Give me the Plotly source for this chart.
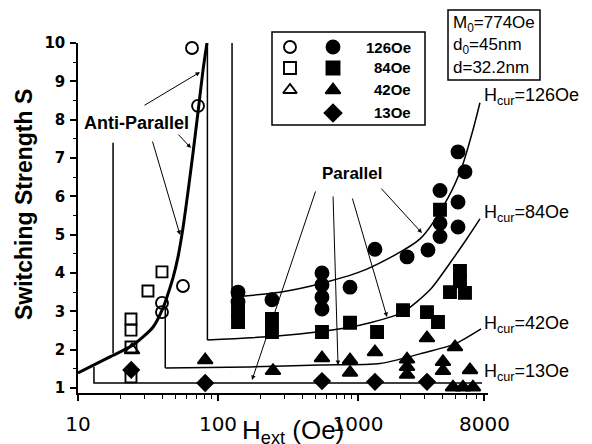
import math
import plotly.graph_objects as go

# ---------------- data ----------------
# anti-parallel fitted curve (thick)
ap_h = [10.0, 16.9, 24.7, 34.4, 40.5, 43.9, 47.7, 51.8, 56.2, 61.0, 66.3, 72.0, 78.2, 83.4]
ap_s = [1.39, 1.81, 2.12, 2.59, 3.09, 3.45, 3.87, 4.42, 5.17, 6.11, 7.13, 8.20, 9.30, 10.0]
# near-vertical anti-parallel branch
ap2_h = [17.8, 17.8]
ap2_s = [1.9, 7.4]

# parallel fitted curves (vertical step at H = Hcur, then rising branch)
p13_h = [13, 13, 7690]
p13_s = [1.55, 1.13, 1.13]

p42v_h = [42, 42]
p42v_s = [3.09, 1.52]
p42_h = [42, 169, 535, 1436, 2773, 4932, 7568]
p42_s = [1.52, 1.55, 1.60, 1.64, 1.89, 2.15, 2.54]

p84v_h = [84, 84]
p84v_s = [10.0, 2.25]
p84_h = [84, 277, 834, 1218, 2096, 3268, 4540, 6010, 7430]
p84_s = [2.25, 2.36, 2.57, 2.70, 2.98, 3.56, 4.26, 4.90, 5.41]

p126v_h = [126, 126]
p126v_s = [10.0, 3.37]
p126_h = [126, 277, 563, 1122, 2773, 4395, 5530, 6624, 7430]
p126_s = [3.37, 3.50, 3.74, 4.08, 4.89, 5.96, 6.77, 7.73, 8.44]

# measured points: open = anti-parallel, filled = parallel
o126_h = [65.2, 72.0, 56.2, 39.8, 39.8]
o126_s = [9.87, 8.36, 3.66, 3.22, 2.98]
o84_h = [39.8, 31.6, 23.9, 23.9, 23.9, 23.9]
o84_s = [4.03, 3.53, 2.80, 2.51, 2.07, 1.29]
o42_h = [24.3]
o42_s = [1.99]

f126_h = [139, 139, 243, 553, 553, 553, 553, 877, 1322, 2240, 3160, 3853, 3853, 3853,
          5180, 5180, 5180, 5810]
f126_s = [3.50, 3.25, 3.30, 4.00, 3.69, 3.37, 3.06, 3.63, 4.62, 4.42, 4.60, 6.15, 5.30, 4.95,
          7.16, 5.85, 5.20, 6.64]
f84_h = [139, 139, 243, 243, 553, 877, 1368, 2096, 3110, 3727, 4540, 5350, 5350, 5810, 3853]
f84_s = [3.00, 2.72, 2.80, 2.46, 2.46, 2.70, 2.46, 3.03, 2.98, 2.72, 3.50, 4.05, 3.78, 3.48, 5.65]
f42_h = [81, 247, 553, 877, 877, 1322, 2240, 2240, 2240, 3110, 4045, 4045, 4930, 6310,
         4770, 5620, 6620]
f42_s = [1.73, 1.45, 1.78, 1.73, 1.40, 1.94, 1.75, 1.55, 1.35, 2.30, 1.68, 1.45, 2.07, 1.47,
         1.02, 1.02, 1.02]
f13_h = [24, 81, 553, 1322, 3110]
f13_s = [1.47, 1.13, 1.18, 1.16, 1.16]

x_ticks = [10, 100, 1000, 8000]
x_tick_text = ["10", "100", "1000", "8000"]
y_ticks = [1, 2, 3, 4, 5, 6, 7, 8, 9, 10]
legend_labels = ["126Oe", "84Oe", "42Oe", "13Oe"]
hcur_labels = ["126Oe", "84Oe", "42Oe", "13Oe"]
info_lines = ["M<sub>0</sub>=774Oe", "d<sub>0</sub>=45nm", "d=32.2nm"]

# arrow heads (H, S) with tail offsets in pixels
ap_arrows = [(74.4, 9.24, -57, 34), (64.1, 7.26, -14, -15), (53.6, 4.99, -28, -95)]
p_arrows = [(175, 1.21, 64, -190), (720, 1.60, -5, -170), (1611, 2.85, -35, -120),
            (2864, 5.04, -42, -46)]

# ---------------- layout geometry (page pixels) ----------------
PAGE_W, PAGE_H = 592, 444
OFF = 8                      # default body margin of the page
W, H = PAGE_W - OFF, PAGE_H - OFF
L, R, T, B = 78, 488, 43, 393   # plot area in page pixels


def pxp(x, y):
    return (x - L) / (R - L), (B - y) / (B - T)


BLK = "black"
fig = go.Figure()


def add_line(x, y, w=1.5, shape="linear"):
    fig.add_trace(go.Scatter(x=x, y=y, mode="lines",
                             line=dict(color=BLK, width=w, shape=shape, smoothing=0.7),
                             hoverinfo="skip", showlegend=False, cliponaxis=True))


def add_pts(x, y, symbol, size, xa="x", ya="y"):
    fig.add_trace(go.Scatter(x=x, y=y, mode="markers", xaxis=xa, yaxis=ya,
                             marker=dict(symbol=symbol, size=size, color=BLK,
                                         line=dict(color=BLK, width=1.9)),
                             hoverinfo="skip", showlegend=False, cliponaxis=False))


add_line(ap_h, ap_s, 3.0, "spline")
add_line(ap2_h, ap2_s, 1.5)
add_line(p13_h, p13_s, 1.5)
add_line(p42v_h, p42v_s, 1.5)
add_line(p42_h, p42_s, 1.5, "spline")
add_line(p84v_h, p84v_s, 1.5)
add_line(p84_h, p84_s, 1.5, "spline")
add_line(p126v_h, p126v_s, 1.5)
add_line(p126_h, p126_s, 1.5, "spline")

add_pts(o126_h, o126_s, "circle-open", 12)
add_pts(o84_h, o84_s, "square-open", 11)
add_pts(o42_h, o42_s, "triangle-up-open", 13)
add_pts(f126_h, f126_s, "circle", 13)
add_pts(f84_h, f84_s, "square", 12)
add_pts(f42_h, f42_s, "triangle-up", 13)
add_pts(f13_h, f13_s, "diamond", 12)

# legend symbols on an overlay pixel axis
leg_rows = [47, 68, 90, 113]
add_pts([290] * 3, leg_rows[:3], ["circle-open", "square-open", "triangle-up-open"], 12, "x2", "y2")
add_pts([333] * 4, leg_rows, ["circle", "square", "triangle-up", "diamond"], 13, "x2", "y2")


def ann(text, x, y, size, bold=False, xanchor="center", yanchor="middle", angle=0,
        family="Liberation Sans"):
    xp, yp = pxp(x, y)
    fig.add_annotation(text=text, x=xp, y=yp, xref="paper", yref="paper", showarrow=False,
                       xanchor=xanchor, yanchor=yanchor, textangle=angle,
                       font=dict(family=family, size=size, color=BLK,
                                 weight="bold" if bold else "normal"))


for lab, y in zip(legend_labels, leg_rows):
    ann(lab, 413, y, 15, bold=True, xanchor="right")
for line, y in zip(info_lines, [24, 46, 68]):
    ann(line, 451, y, 17, xanchor="left")
for lab, y in zip(hcur_labels, [97, 213, 324, 372]):
    ann("H<sub>cur</sub>=" + lab, 482, y, 18, xanchor="left")

ann("Anti-Parallel", 136, 123, 18, bold=True)
ann("Parallel", 352, 173, 17, bold=True)
ann("Switching Strength S", 24, 205, 23, bold=True, angle=-90)
ann("H<sub>ext</sub> (Oe)", 240, 431, 26, xanchor="left")

for hh, ss, ax, ay in ap_arrows + p_arrows:
    fig.add_annotation(x=math.log10(hh), y=ss, xref="x", yref="y", ax=ax, ay=ay,
                       text="", showarrow=True, arrowhead=2, arrowsize=0.9, arrowwidth=1,
                       arrowcolor=BLK, standoff=0)

# legend box and info box
for (x0, y0, x1, y1) in [(272, 32, 425, 125), (448, 10, 540, 80)]:
    a0, b0 = pxp(x0, y1)
    a1, b1 = pxp(x1, y0)
    fig.add_shape(type="rect", xref="paper", yref="paper", x0=a0, y0=b0, x1=a1, y1=b1,
                  line=dict(color=BLK, width=1.5), fillcolor="rgba(0,0,0,0)")

minor_x = [v * m for m in (10, 100, 1000) for v in range(2, 10) if v * m < 9000]

fig.update_layout(
    template="none",
    width=W, height=H, autosize=False,
    margin=dict(l=L - OFF, r=PAGE_W - R, t=T - OFF, b=PAGE_H - B, pad=0),
    paper_bgcolor="white", plot_bgcolor="white",
    showlegend=False,
    xaxis=dict(type="log", range=[1.0, 1 + (R - L) / 140], showline=True, linecolor=BLK,
               linewidth=1.5, mirror=False, ticks="outside", ticklen=6, tickwidth=1.5,
               tickcolor=BLK, tickvals=x_ticks, ticktext=x_tick_text, showgrid=False,
               zeroline=False, ticklabelstandoff=6, automargin=False,
               tickfont=dict(family="DejaVu Sans", size=20, color=BLK),
               minor=dict(tickvals=minor_x, ticks="outside", ticklen=4, tickwidth=1,
                          tickcolor=BLK, showgrid=False)),
    yaxis=dict(range=[10 - (B - T) / 38.33, 10.0], showline=True, linecolor=BLK,
               linewidth=1.5, ticks="outside", ticklen=6, tickwidth=1.5, tickcolor=BLK,
               tickvals=y_ticks, showgrid=False, zeroline=False, ticklabelstandoff=2,
               automargin=False,
               tickfont=dict(family="DejaVu Sans", size=15, color=BLK, weight="bold"),
               minor=dict(dtick=0.5, tick0=0.5, ticks="outside", ticklen=3, tickwidth=1,
                          tickcolor=BLK, showgrid=False)),
    xaxis2=dict(overlaying="x", range=[L, R], visible=False, automargin=False),
    yaxis2=dict(overlaying="y", range=[B, T], visible=False, automargin=False),
)

fig.write_html("out.html")
